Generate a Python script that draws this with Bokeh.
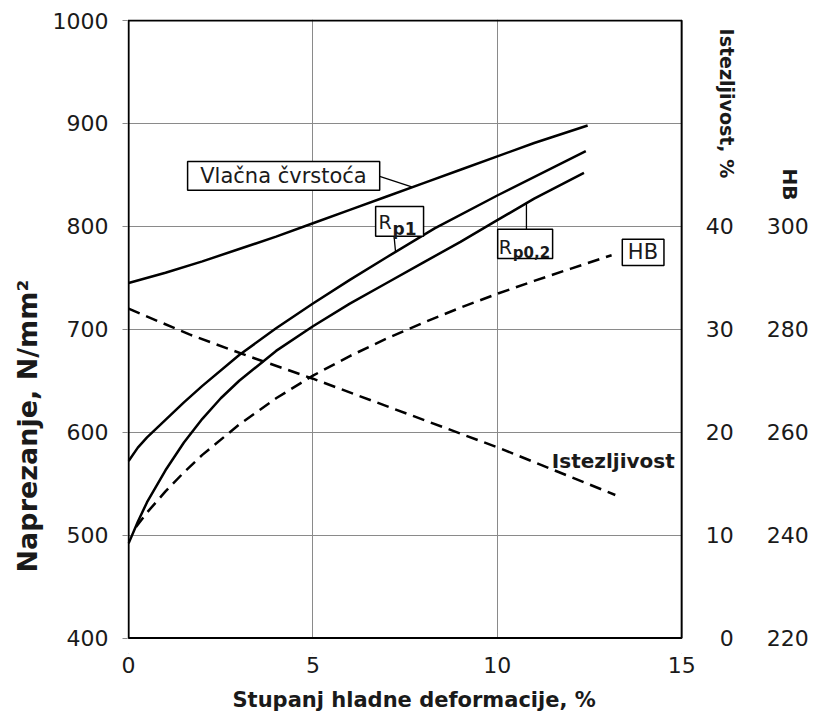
import math
import numpy as np
from bokeh.plotting import figure
from bokeh.models import (Range1d, LinearAxis, FixedTicker, Label, BoxAnnotation,
                          CustomJSTickFormatter, Title)
from bokeh.embed import file_html
from bokeh.resources import INLINE

# ---------------- data ----------------
x_ticks = [0, 5, 10, 15]
y_ticks = [400, 500, 600, 700, 800, 900, 1000]
ist_ticks = [0, 10, 20, 30, 40]
hb_ticks = [220, 240, 260, 280, 300]

# Vlačna čvrstoća (N/mm2)
vl_x = [0, 1, 2, 3, 4, 5, 6, 7, 8, 9, 10, 11, 12.45]
vl_y = [745, 755, 766, 778, 790, 803, 816, 829, 842, 855, 868, 881, 898]

# Rp1 (N/mm2)
rp1_x = [0, 0.25, 0.5, 1, 1.5, 2, 3, 4, 5, 6, 7, 8.3, 10, 12.4]
rp1_y = [572, 585, 595, 612, 629, 645, 675, 701, 725, 748, 770, 798, 830, 873]

# Rp0,2 (N/mm2)
rp02_x = [0, 0.25, 0.5, 1, 1.5, 2, 2.5, 3, 4, 5, 6, 7, 8, 9, 10, 11, 12.35]
rp02_y = [492, 513, 532, 563, 590, 613, 633, 650, 679, 703, 725, 745, 765, 785, 806, 827, 852]

# HB (Brinell hardness)
hb_x = [0.2, 0.5, 1, 1.5, 2, 3, 4, 5, 6, 7, 8, 9, 10, 11, 12, 13.1]
hb_y = [241.6, 244.4, 248.5, 252.2, 255.6, 261.5, 266.6, 271, 274.8, 278.2,
        281.3, 284.2, 286.9, 289.4, 291.8, 294.4]

# Istezljivost (%)
ist_x = [0, 1.65, 3.24, 5, 10.1, 13.2]
ist_y = [32, 29.5, 27.4, 25.2, 18.4, 13.9]

# ---------------- figure ----------------
FONT = "DejaVu Sans"
TXT = "#1a1a1a"
X_MAX = 18.82   # frame extends over the right-hand scale area
Y_MIN = 385     # frame extends a little below the plot box (room for right scale labels)

p = figure(width=822, height=722, output_backend="svg", toolbar_location=None,
           x_range=Range1d(-0.03, X_MAX), y_range=Range1d(Y_MIN, 1001),
           min_border_left=127, min_border_right=0,
           min_border_top=19, min_border_bottom=68)
p.extra_y_ranges = {"ist": Range1d((Y_MIN - 400) / 10, 60.1),
                    "hb": Range1d(220 + (Y_MIN - 400) / 5, 340.2)}

p.background_fill_color = "white"
p.border_fill_color = "white"
p.outline_line_color = None

# grid
p.xgrid.ticker = FixedTicker(ticks=x_ticks)
p.ygrid.ticker = FixedTicker(ticks=y_ticks)
for g in (p.xgrid, p.ygrid):
    g.grid_line_color = "#8a8a8a"
    g.grid_line_width = 1

# white masks outside the plot box (hide grid lines there)
p.add_layout(BoxAnnotation(left=15, fill_color="white", fill_alpha=1.0,
                           line_alpha=0, level="glyph"))
p.add_layout(BoxAnnotation(top=400, fill_color="white", fill_alpha=1.0,
                           line_alpha=0, level="glyph"))
# plot border
p.add_layout(BoxAnnotation(left=0, right=15, bottom=400, top=1000,
                           fill_alpha=0, line_color="black", line_width=2,
                           line_alpha=1.0))

# bottom axis
xa = p.xaxis[0]
xa.ticker = FixedTicker(ticks=x_ticks)
xa.axis_line_color = None
xa.major_tick_line_color = None
xa.minor_tick_line_color = None
xa.major_tick_out = 0
xa.major_tick_in = 0
xa.major_label_standoff = 3
xa.major_label_text_font = FONT
xa.major_label_text_font_size = "22px"
xa.major_label_text_color = TXT

# left axis
ya = p.yaxis[0]
ya.ticker = FixedTicker(ticks=y_ticks)
ya.axis_line_color = None
ya.major_tick_line_color = "#8a8a8a"
ya.major_tick_out = 5
ya.major_tick_in = 0
ya.minor_tick_line_color = None
ya.major_label_standoff = 14
ya.major_label_text_font = FONT
ya.major_label_text_font_size = "22px"
ya.major_label_text_color = TXT

# right axes, pinned at x = 15
pad_fmt = CustomJSTickFormatter(code="return String(tick).padStart(2, '\\u2007');")
ax_ist = LinearAxis(y_range_name="ist", ticker=FixedTicker(ticks=ist_ticks),
                    formatter=pad_fmt, fixed_location=15)
ax_hb = LinearAxis(y_range_name="hb", ticker=FixedTicker(ticks=hb_ticks),
                   fixed_location=15)
for ax, so in ((ax_ist, 24), (ax_hb, 85)):
    ax.axis_line_color = None
    ax.major_tick_line_color = None
    ax.minor_tick_line_color = None
    ax.major_tick_out = 0
    ax.major_tick_in = 0
    ax.major_label_standoff = so
    ax.major_label_text_font = FONT
    ax.major_label_text_font_size = "22px"
    ax.major_label_text_color = TXT
p.add_layout(ax_ist, "right")
p.add_layout(ax_hb, "right")

# axis titles placed as side titles (outside the frame)
t_left = Title(text="Naprezanje, N/mm²", align="left", offset=81, standoff=13,
               text_font=FONT, text_font_size="27px", text_font_style="bold",
               text_color=TXT)
p.add_layout(t_left, "left")
t_below = Title(text="Stupanj hladne deformacije, %", align="left", offset=105, standoff=21,
                text_font=FONT, text_font_size="21px", text_font_style="bold",
                text_color=TXT)
p.add_layout(t_below, "below")

# ---------------- curves ----------------
LW = 2.5
p.line(vl_x, vl_y, line_color="black", line_width=LW)
p.line(rp1_x, rp1_y, line_color="black", line_width=LW)
p.line(rp02_x, rp02_y, line_color="black", line_width=LW)
p.line(hb_x, hb_y, y_range_name="hb", line_color="black", line_width=LW, line_dash="12 7")
p.line(ist_x, ist_y, y_range_name="ist", line_color="black", line_width=LW, line_dash="12 7")

# ---------------- leader lines ----------------
lead_x0 = [6.81, 7.20, 10.79]
lead_y0 = [848.5, 790.3, 797.1]
lead_x1 = [7.70, 7.24, 10.79]
lead_y1 = [float(np.interp(7.70, vl_x, vl_y)),
           float(np.interp(7.24, rp1_x, rp1_y)),
           float(np.interp(10.79, rp02_x, rp02_y))]
p.segment(lead_x0, lead_y0, lead_x1, lead_y1, line_color="black", line_width=1.3)

# ---------------- boxed labels ----------------
def box(l, r, t, b):
    p.add_layout(BoxAnnotation(left=l, right=r, top=t, bottom=b,
                               fill_color="white", fill_alpha=1.0,
                               line_color="black", line_width=1.5, line_alpha=1.0))

def lab(x, y, text, size, bold=False, align="left", baseline="alphabetic", angle=0.0):
    p.add_layout(Label(x=x, y=y, text=text, text_font=FONT, text_font_size=size,
                       text_font_style="bold" if bold else "normal",
                       text_color=TXT, text_align=align, text_baseline=baseline,
                       angle=angle))

box(1.60, 6.81, 863.1, 835.0)
lab(4.20, 849.0, "Vlačna čvrstoća", "21px", align="center", baseline="middle")

box(6.70, 8.00, 819.4, 790.3)
lab(6.78, 803.9, "R", "19px")
lab(7.16, 797.6, "p1", "17px", bold=True)

box(10.01, 11.50, 797.1, 768.9)
lab(10.04, 779.6, "R", "19px")
lab(10.42, 773.8, "p0,2", "15px", bold=True)

box(13.39, 14.52, 787.4, 762.1)
lab(13.95, 774.8, "HB", "21px", align="center", baseline="middle")

lab(11.48, 571.8, "Istezljivost", "20px", bold=True, baseline="middle")

# right-hand scale titles
lab(16.22, 992.2, "Istezljivost, %", "19px", bold=True,
    align="left", baseline="middle", angle=-math.pi / 2)
lab(17.93, 856.3, "HB", "20px", bold=True,
    align="left", baseline="middle", angle=-math.pi / 2)

open("out.html", "w").write(file_html(p, INLINE))
